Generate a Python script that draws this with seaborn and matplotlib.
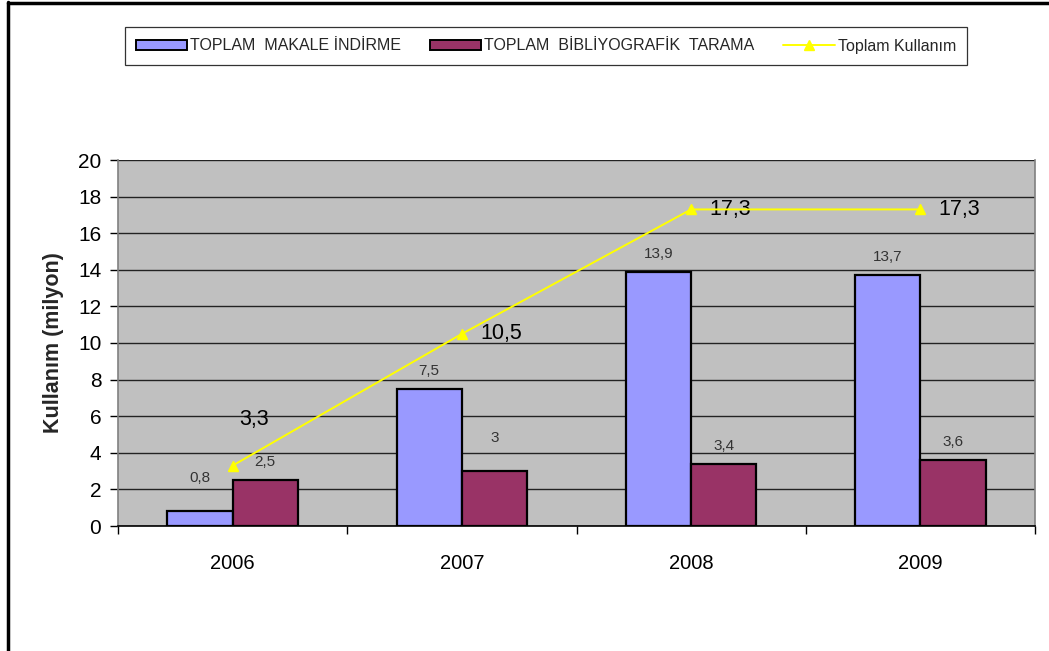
import matplotlib
matplotlib.use("Agg")
import matplotlib.pyplot as plt
import seaborn as sns
import pandas as pd
from matplotlib.lines import Line2D
from matplotlib.patches import Patch
from matplotlib.ticker import MultipleLocator, FixedLocator

years = ["2006", "2007", "2008", "2009"]
makale = [0.8, 7.5, 13.9, 13.7]
biblio = [2.5, 3.0, 3.4, 3.6]
toplam = [3.3, 10.5, 17.3, 17.3]
makale_lbl = ["0,8", "7,5", "13,9", "13,7"]
biblio_lbl = ["2,5", "3", "3,4", "3,6"]
toplam_lbl = ["3,3", "10,5", "17,3", "17,3"]
series_names = ["TOPLAM  MAKALE İNDİRME", "TOPLAM  BİBLİYOGRAFİK  TARAMA", "Toplam Kullanım"]

sns.set_theme(style="white")
plt.rcParams["font.family"] = ["Liberation Sans", "DejaVu Sans"]

BLUE = "#9999FF"
RED = "#993366"
YELLOW = "#FFFF00"

df = pd.DataFrame({
    "year": years * 2,
    "value": makale + biblio,
    "series": [series_names[0]] * 4 + [series_names[1]] * 4,
})

fig = plt.figure(figsize=(10.49, 6.51), dpi=100)
ax = fig.add_axes([118 / 1049, 1 - 526 / 651, (1035 - 118) / 1049, (526 - 160) / 651])
ax.set_facecolor("#C0C0C0")

sns.barplot(data=df, x="year", y="value", hue="series", order=years,
            hue_order=series_names[:2], palette=[BLUE, RED], width=0.57,
            edgecolor="black", linewidth=1.6, saturation=1, ax=ax, legend=False,
            errorbar=None, zorder=3)

tdf = pd.DataFrame({"year": years, "value": toplam})
sns.pointplot(data=tdf, x="year", y="value", order=years, color=YELLOW,
              markers="^", linestyles="-", markersize=7, linewidth=1.4, ax=ax,
              errorbar=None, zorder=4)

ax.set_xlim(-0.5, 3.5)
ax.set_ylim(0, 20)
ax.yaxis.set_major_locator(MultipleLocator(2))
ax.grid(axis="y", color="#222222", linewidth=1.0, zorder=0)
ax.set_axisbelow(True)
for sp in ["left", "right", "top"]:
    ax.spines[sp].set_color("#808080")
    ax.spines[sp].set_linewidth(1.2)
ax.spines["top"].set_visible(False)
ax.spines["bottom"].set_color("black")
ax.spines["bottom"].set_linewidth(1.2)

ax.tick_params(axis="y", which="major", left=True, length=6, width=1, color="black",
               labelsize=15, pad=6, labelcolor="black")
ax.tick_params(axis="x", which="major", bottom=False, labelsize=14.5, pad=14, labelcolor="black")
ax.xaxis.set_minor_locator(FixedLocator([-0.5, 0.5, 1.5, 2.5, 3.5]))
ax.tick_params(axis="x", which="minor", bottom=True, length=6, width=1, color="black")
ax.set_xlabel("")
ax.set_ylabel("Kullanım (milyon)", fontsize=15.5, fontweight="bold", labelpad=10)

# bar value labels
bw = 0.57 / 2
m_off = [19, 8, 8, 8]
b_off = [8, 19, 8, 8]
for i in range(len(years)):
    ax.annotate(makale_lbl[i], (i - bw / 2, makale[i]), xytext=(0, m_off[i]),
                textcoords="offset points", ha="center", va="bottom",
                fontsize=11, color="#333333")
    ax.annotate(biblio_lbl[i], (i + bw / 2, biblio[i]), xytext=(0, b_off[i]),
                textcoords="offset points", ha="center", va="bottom",
                fontsize=11, color="#333333")

# line labels
for i in range(len(years)):
    if i == 0:
        xy_off = (5, 33)
    else:
        xy_off = (13, 0)
    ax.annotate(toplam_lbl[i], (i, toplam[i]), xytext=xy_off,
                textcoords="offset points", ha="left", va="center",
                fontsize=15.5, color="black")

handles = [
    Patch(facecolor=BLUE, edgecolor="black", linewidth=1.4),
    Patch(facecolor=RED, edgecolor="black", linewidth=1.4),
    Line2D([0], [0], color=YELLOW, marker="^", markersize=7, linewidth=1.4),
]
leg = fig.legend(handles, series_names, loc="center", ncol=3,
                 bbox_to_anchor=(546 / 1049, 1 - 46 / 651), fontsize=11.5,
                 frameon=True, fancybox=False, edgecolor="black",
                 handlelength=3.2, handleheight=0.6, handletextpad=0.2,
                 columnspacing=1.8, borderpad=0.7, borderaxespad=0)
leg.get_frame().set_linewidth(0.9)

# outer chart border (left and top)
fig.add_artist(Line2D([7.5 / 1049, 7.5 / 1049], [0, 1 - 2 / 651], color="black",
                      linewidth=2.5, transform=fig.transFigure))
fig.add_artist(Line2D([7.5 / 1049, 1], [1 - 2.5 / 651, 1 - 2.5 / 651], color="black",
                      linewidth=2.5, transform=fig.transFigure))

fig.savefig("out.png", dpi=100, facecolor="white")
